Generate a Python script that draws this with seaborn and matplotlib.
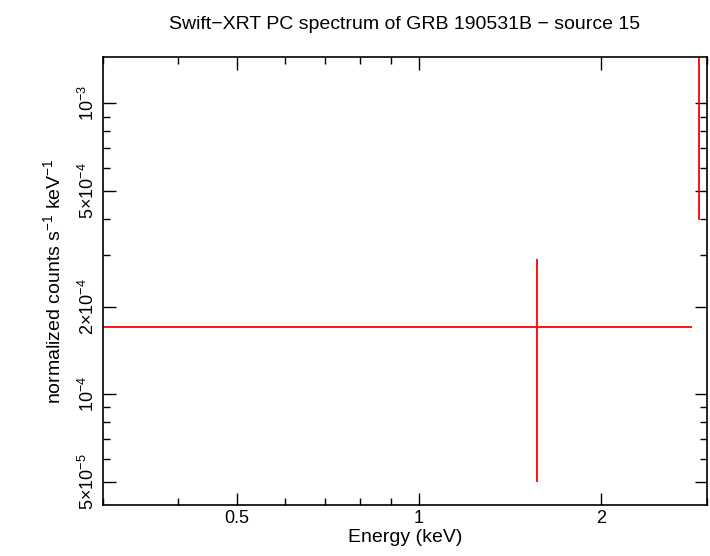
import matplotlib
matplotlib.use("Agg")
import matplotlib.pyplot as plt
import seaborn as sns
import numpy as np
from matplotlib.ticker import FixedLocator, NullFormatter

x_center = [1.57, 2.91]
x_low = [0.30, 2.885]
x_high = [2.83, 2.935]
y_val = [1.7e-4, 1.7e-3]
y_low = [5.0e-5, 3.96e-4]
y_high = [2.91e-4, 3.0e-3]

xticks = [0.5, 1, 2]
xticklabels = ["0.5", "1", "2"]
yticks = [5e-5, 1e-4, 2e-4, 5e-4, 1e-3]
yticklabels = [r"5$\times$10$^{-5}$", r"10$^{-4}$", r"2$\times$10$^{-4}$", r"5$\times$10$^{-4}$", r"10$^{-3}$"]

sns.set_style("ticks")
plt.rcParams.update({"font.family": "Liberation Sans", "mathtext.fontset": "custom",
                     "mathtext.rm": "Liberation Sans", "mathtext.it": "Liberation Sans",
                     "text.color": "black", "axes.labelcolor": "black",
                     "xtick.color": "black", "ytick.color": "black", "axes.edgecolor": "black"})
fig = plt.figure(figsize=(7.1, 5.56), dpi=100)
ax = fig.add_axes([0.145, 0.092, 0.851, 0.805])
xc = np.array(x_center); yv = np.array(y_val)
ax.errorbar(xc, yv, xerr=[xc - np.array(x_low), np.array(x_high) - xc],
            yerr=[yv - np.array(y_low), np.array(y_high) - yv],
            fmt="none", ecolor="red", elinewidth=1.3, capsize=0)
ax.set_xscale("log"); ax.set_yscale("log")
ax.set_xlim(0.3, 3.0); ax.set_ylim(4.16e-5, 1.44e-3)
ax.xaxis.set_major_locator(FixedLocator(xticks))
ax.set_xticklabels(xticklabels)
ax.xaxis.set_minor_locator(FixedLocator([0.3, 0.4, 0.6, 0.7, 0.8, 0.9, 3]))
ax.xaxis.set_minor_formatter(NullFormatter())
ax.yaxis.set_major_locator(FixedLocator(yticks))
ax.set_yticklabels(yticklabels, rotation=90, va="center")
ax.yaxis.set_minor_locator(FixedLocator([6e-5, 7e-5, 8e-5, 9e-5, 3e-4, 4e-4, 6e-4, 7e-4, 8e-4, 9e-4]))
ax.yaxis.set_minor_formatter(NullFormatter())
ax.tick_params(which="both", direction="in", top=True, right=True, labelsize=13, width=1)
ax.tick_params(which="major", length=9)
ax.tick_params(which="minor", length=5)
for s in ax.spines.values():
    s.set_linewidth(1.2)
ax.set_xlabel("Energy (keV)", fontsize=14, labelpad=2)
ax.set_ylabel(r"normalized counts s$^{-1}$ keV$^{-1}$", fontsize=14, labelpad=10)
ax.set_title("Swift\u2212XRT PC spectrum of GRB 190531B \u2212 source 15", fontsize=14, pad=20)
fig.savefig("out.png", dpi=100)
